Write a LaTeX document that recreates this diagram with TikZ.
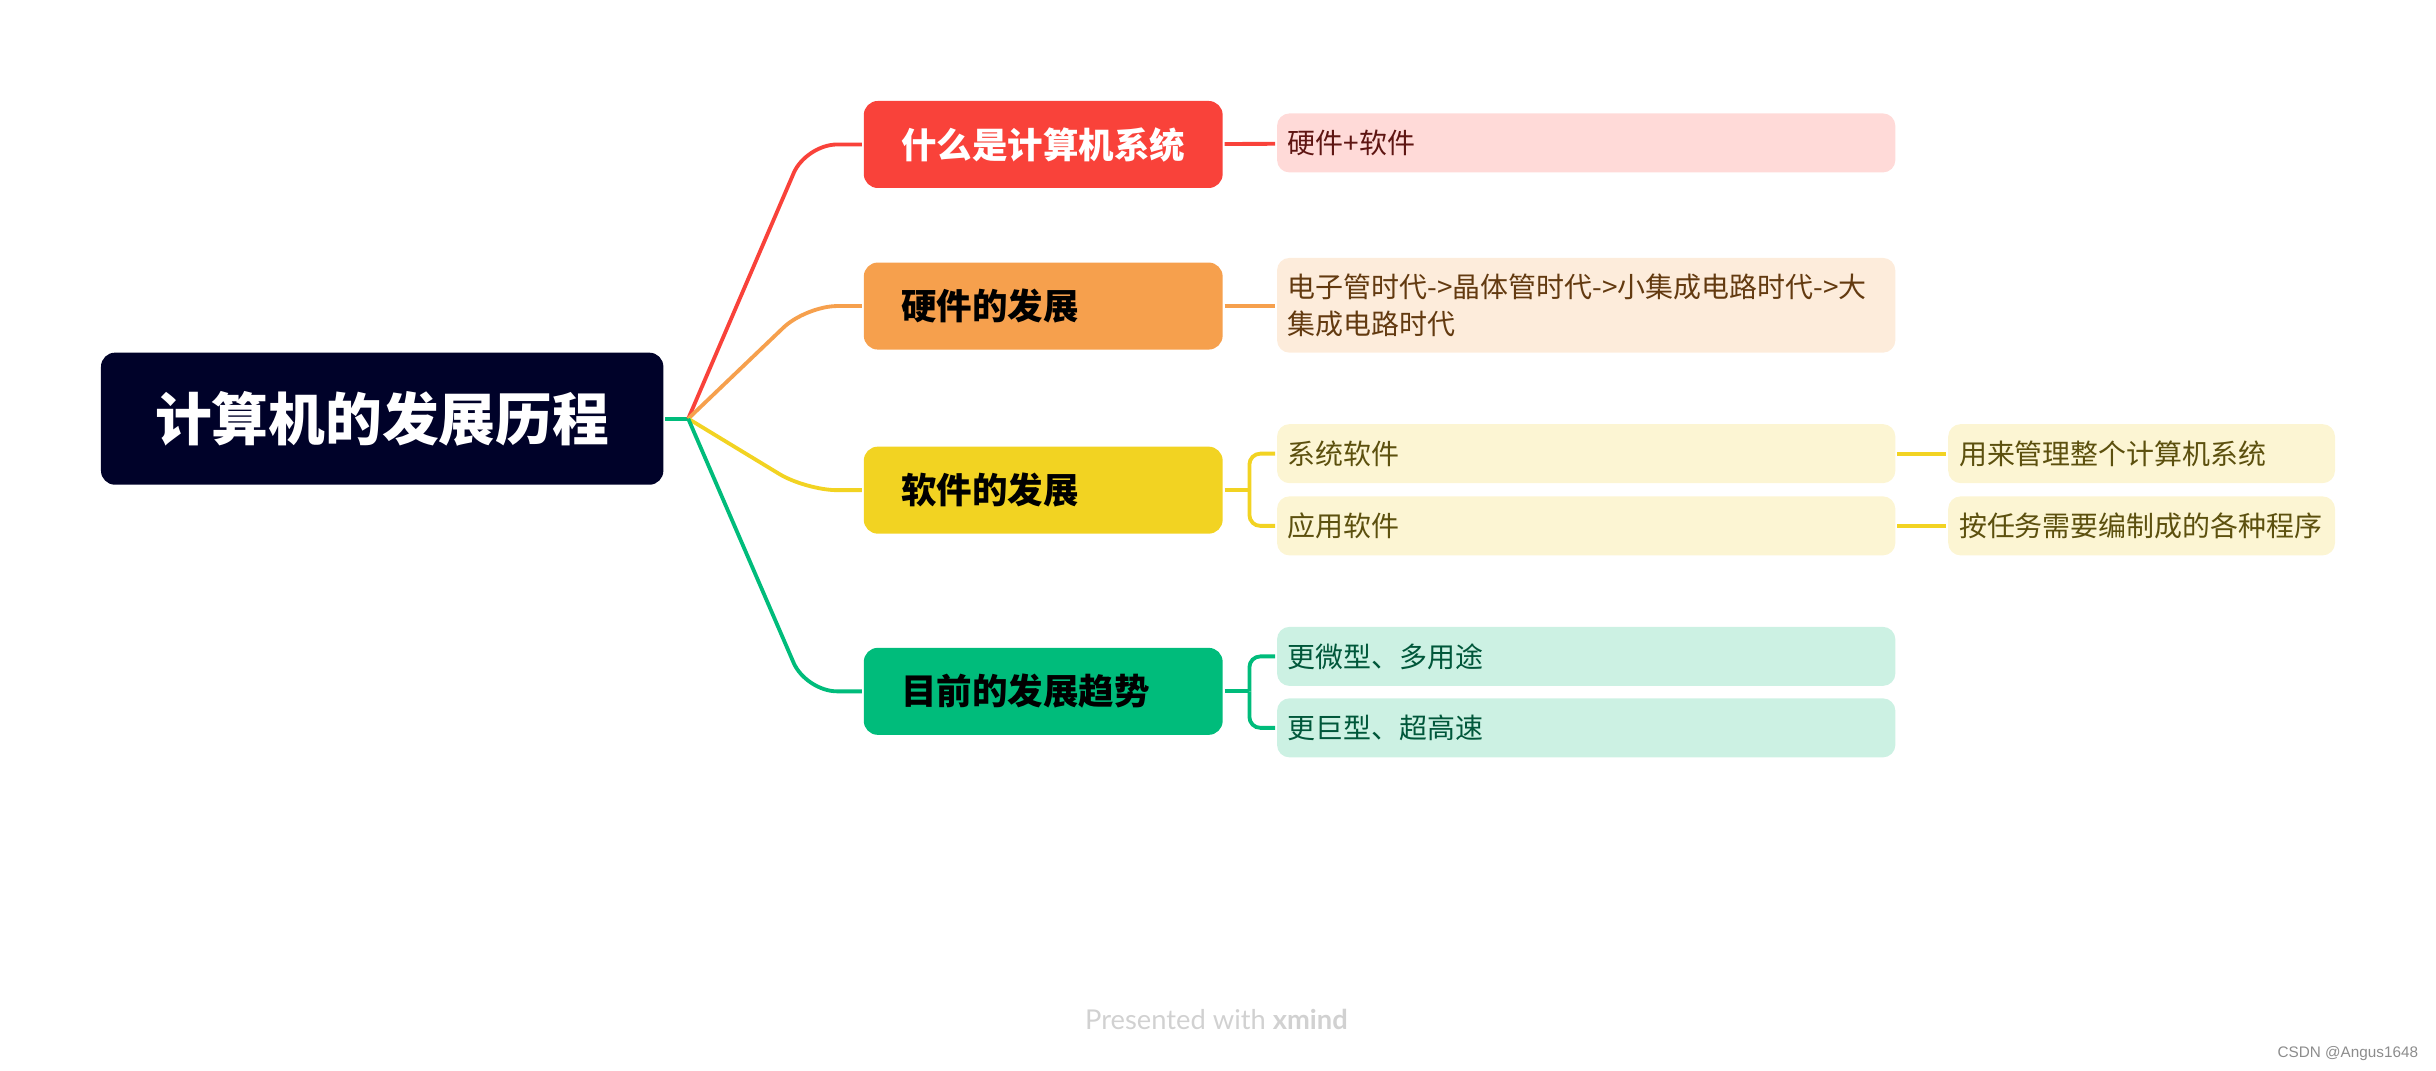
\documentclass[tikz,border=0pt]{standalone}
\usepackage{fontspec}
\setmainfont{Noto Sans CJK SC}
\newfontfamily\footfont{Lato}
\newfontfamily\markfont{Liberation Sans}
\usetikzlibrary{calc}

\definecolor{rootfill}{HTML}{000229}
\definecolor{redtopic}{HTML}{F9423A}
\definecolor{orangetopic}{HTML}{F6A04D}
\definecolor{yellowtopic}{HTML}{F2D322}
\definecolor{greentopic}{HTML}{00BC7B}
\definecolor{redsub}{HTML}{FFDAD8}
\definecolor{orangesub}{HTML}{FDECDB}
\definecolor{yellowsub}{HTML}{FCF5D3}
\definecolor{greensub}{HTML}{CCF1E3}
\definecolor{redtext}{HTML}{5E1512}
\definecolor{orangetext}{HTML}{633A10}
\definecolor{yellowtext}{HTML}{5C500E}
\definecolor{greentext}{HTML}{00573A}

\begin{document}
\begin{tikzpicture}[
    x = 0.05cm, y = -0.05cm,
    line width = 3.5pt,
    root/.style = {rectangle,
      rounded corners = 0.45cm,
      fill = rootfill,
      text = white,
      font = \fontsize{52}{60}\selectfont\bfseries,
      minimum width = 18.1cm, minimum height = 4.25cm},
    topic/.style = {rectangle,
      rounded corners = 0.45cm,
      fill = #1,
      align = left, text width = 9.15cm, inner xsep = 1.2cm,
      minimum height = 2.8cm,
      font = \fontsize{32.5}{38}\selectfont\bfseries},
    subtopic/.style = {rectangle,
      rounded corners = 0.4cm,
      fill = #1,
      align = left, text width = 19.2cm, inner xsep = 0.35cm,
      minimum height = 1.9cm,
      font = \fontsize{25.6}{34}\selectfont},
    leaf/.style = {subtopic = #1, text width = 11.75cm},
    branch/.style = {draw = #1, rounded corners = 1cm},
    bracket/.style = {draw = #1, rounded corners = 0.35cm}
    ]
    \useasboundingbox (0, 0) rectangle (1568, 689);

    \node at (246, 269.5) [root, name = hist] {计算机的发展历程};
    \coordinate (hub) at (443, 269.5);

    \node at (671.5, 93) [topic = redtopic, text = white, name = what] {什么是计算机系统};
    \node at (671.5, 197) [topic = orangetopic, name = hard] {硬件的发展};
    \node at (671.5, 315.5) [topic = yellowtopic, name = soft] {软件的发展};
    \node at (671.5, 445) [topic = greentopic, name = trend] {目前的发展趋势};

    \node at (1021, 92) [subtopic = redsub, text = redtext, name = hs] {硬件+软件};
    \node at (1021, 196.5) [subtopic = orangesub, text = orangetext, minimum height = 3.05cm, name = era]
    {电子管时代->晶体管时代->小集成电路时代->大\\集成电路时代};
    \node at (1021, 292) [subtopic = yellowsub, text = yellowtext, name = sys] {系统软件};
    \node at (1021, 338.5) [subtopic = yellowsub, text = yellowtext, name = app] {应用软件};
    \node at (1378.5, 292) [leaf = yellowsub, text = yellowtext, name = sysuse] {用来管理整个计算机系统};
    \node at (1378.5, 338.5) [leaf = yellowsub, text = yellowtext, name = appuse] {按任务需要编制成的各种程序};
    \node at (1021, 422.5) [subtopic = greensub, text = greentext, name = micro] {更微型、多用途};
    \node at (1021, 468.5) [subtopic = greensub, text = greentext, name = giant] {更巨型、超高速};

    \draw [draw = greentopic] (hist.east) to (hub);
    \draw [branch = redtopic] (hub) -- ([xshift = -1.8cm] what.west) -- (what.west);
    \draw [branch = orangetopic] (hub) -- ([xshift = -1.8cm] hard.west) -- (hard.west);
    \draw [branch = yellowtopic] (hub) -- ([xshift = -1.8cm] soft.west) -- (soft.west);
    \draw [branch = greentopic] (hub) -- ([xshift = -1.8cm] trend.west) -- (trend.west);

    \draw [draw = redtopic] (what) to (hs);
    \draw [draw = orangetopic] (hard.east) to (hard.east -| era.west);

    \coordinate (softfork) at ([xshift = 0.8cm] soft.east);
    \draw [draw = yellowtopic] (soft.east) to (softfork);
    \draw [bracket = yellowtopic] (softfork) |- (sys.west);
    \draw [bracket = yellowtopic] (softfork) |- (app.west);
    \draw [draw = yellowtopic] (sys) to (sysuse);
    \draw [draw = yellowtopic] (app) to (appuse);

    \coordinate (trendfork) at ([xshift = 0.8cm] trend.east);
    \draw [draw = greentopic] (trend.east) to (trendfork);
    \draw [bracket = greentopic] (trendfork) |- (micro.west);
    \draw [bracket = greentopic] (trendfork) |- (giant.west);

    \node at (783, 656) [text = black!18, font = \footfont\fontsize{25}{28}\selectfont, name = foot]
    {Presented with \textbf{xmind}};
    \node at (1560, 678) [anchor = east, text = black!45, font = \markfont\fontsize{14}{17}\selectfont, name = mark]
    {CSDN @Angus1648};
  \end{tikzpicture}
\end{document}
